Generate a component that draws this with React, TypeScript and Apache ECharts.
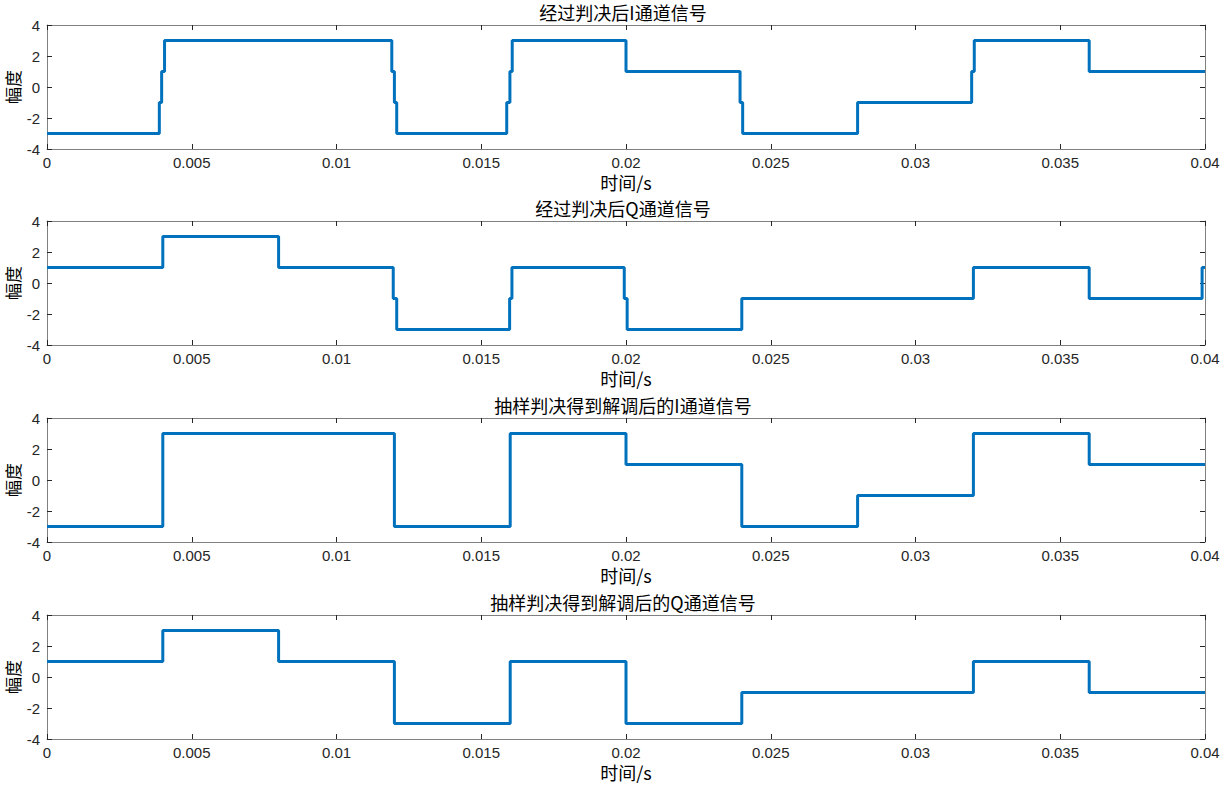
import React, { useEffect, useRef } from "react";
import * as echarts from "echarts";

// ---- Data ----
const titles = [
  "经过判决后I通道信号",
  "经过判决后Q通道信号",
  "抽样判决得到解调后的I通道信号",
  "抽样判决得到解调后的Q通道信号",
];
const xTicks = [0, 0.005, 0.01, 0.015, 0.02, 0.025, 0.03, 0.035, 0.04];
const yTicks = [-4, -2, 0, 2, 4];
const tEnd = 0.04;

// step start times and held values
const iDecTimes = [0, 0.00388, 0.00396, 0.00406, 0.01191, 0.012, 0.01208, 0.01588, 0.01599, 0.01607, 0.02, 0.02394, 0.02403, 0.028, 0.03194, 0.03203, 0.036];
const iDecVals = [-3, -1, 1, 3, 1, -1, -3, -1, 1, 3, 1, -1, -3, -1, 1, 3, 1];

const qDecTimes = [0, 0.004, 0.008, 0.01196, 0.01208, 0.01598, 0.01606, 0.01994, 0.02004, 0.024, 0.032, 0.036, 0.0399];
const qDecVals = [1, 3, 1, -1, -3, -1, 1, -1, -3, -1, 1, -1, 1];

const iOutTimes = [0, 0.004, 0.012, 0.016, 0.02, 0.024, 0.028, 0.032, 0.036];
const iOutVals = [-3, 3, -3, 3, 1, -3, -1, 3, 1];

const qOutTimes = [0, 0.004, 0.008, 0.012, 0.016, 0.02, 0.024, 0.032, 0.036];
const qOutVals = [1, 3, 1, -3, 1, -3, -1, 1, -1];

const seriesTimes = [iDecTimes, qDecTimes, iOutTimes, qOutTimes];
const seriesVals = [iDecVals, qDecVals, iOutVals, qOutVals];

const FONT = "'Liberation Sans', 'Noto Sans CJK SC', Arial, sans-serif";
const CJK = "'Noto Sans CJK SC', 'Liberation Sans', sans-serif";
const tops = [25, 221, 418, 615];
const H = 124;
const LEFT = 47;
const RIGHT = 19;
const LINE = "#808080";
const TICK = "#262626";

function buildOption() {
  const grid: any[] = [];
  const xAxis: any[] = [];
  const yAxis: any[] = [];
  const series: any[] = [];
  const title: any[] = [];
  tops.forEach((top, i) => {
    grid.push({ left: LEFT, right: RIGHT, top, height: H, show: false, containLabel: false, outerBoundsMode: "none" });
    title.push({
      text: titles[i],
      left: (LEFT + 1224 - RIGHT) / 2 - 3,
      textAlign: "center",
      top: top - 22,
      padding: 0,
      textStyle: { fontFamily: CJK, fontSize: 18, fontWeight: "normal", color: "#000", lineHeight: 18 },
    });
    const xBase = {
      type: "value",
      gridIndex: i,
      min: 0,
      max: tEnd,
      interval: 0.005,
      splitLine: { show: false },
      axisLine: { show: true, onZero: false, lineStyle: { color: LINE, width: 1 } },
      axisTick: { show: true, inside: true, length: 5, lineStyle: { color: TICK } },
    };
    xAxis.push({
      ...xBase,
      position: "bottom",
      name: "时间/s",
      nameLocation: "middle",
      nameGap: 24,
      nameMoveOverlap: false,
      nameTextStyle: { fontFamily: CJK, fontSize: 18, color: "#000", lineHeight: 18 },
      axisLabel: {
        show: true,
        margin: 6,
        fontFamily: FONT,
        fontSize: 15,
        color: "#262626",
        customValues: xTicks,
        formatter: (v: number) => String(+v.toFixed(3)),
      },
      axisTick: { ...xBase.axisTick, customValues: xTicks },
    });
    xAxis.push({ ...xBase, position: "top", axisLabel: { show: false } });
    const yBase = {
      type: "value",
      gridIndex: i,
      min: -4,
      max: 4,
      interval: 2,
      splitLine: { show: false },
      axisLine: { show: true, onZero: false, lineStyle: { color: LINE, width: 1 } },
      axisTick: { show: true, inside: true, length: 5, lineStyle: { color: TICK } },
    };
    yAxis.push({
      ...yBase,
      position: "left",
      name: "幅度",
      nameLocation: "middle",
      nameRotate: 90,
      nameGap: 26,
      nameMoveOverlap: false,
      nameTextStyle: { fontFamily: CJK, fontSize: 17, color: "#000", lineHeight: 17 },
      axisLabel: {
        show: true,
        margin: 7,
        fontFamily: FONT,
        fontSize: 15,
        color: "#262626",
        customValues: yTicks,
      },
    });
    yAxis.push({ ...yBase, position: "right", axisLabel: { show: false } });

    const ts = seriesTimes[i];
    const vs = seriesVals[i];
    const data: number[][] = ts.map((t, k) => [t, vs[k]]);
    data.push([tEnd, vs[vs.length - 1]]);
    series.push({
      type: "line",
      xAxisIndex: i * 2,
      yAxisIndex: i * 2,
      data,
      step: "end",
      showSymbol: false,
      symbol: "none",
      clip: true,
      lineStyle: { color: "#0072BD", width: 3 },
      z: 1,
    });
  });
  return {
    animation: false,
    backgroundColor: "#ffffff",
    title,
    grid,
    xAxis,
    yAxis,
    series,
  };
}

export default function App() {
  const ref = useRef<HTMLDivElement>(null);
  useEffect(() => {
    document.body.style.margin = "0";
    if (!ref.current) return;
    const chart = echarts.init(ref.current, undefined, { renderer: "svg" });
    chart.setOption(buildOption() as any);
    return () => chart.dispose();
  }, []);
  return <div ref={ref} style={{ width: 1224, height: 788, background: "#fff" }} />;
}
